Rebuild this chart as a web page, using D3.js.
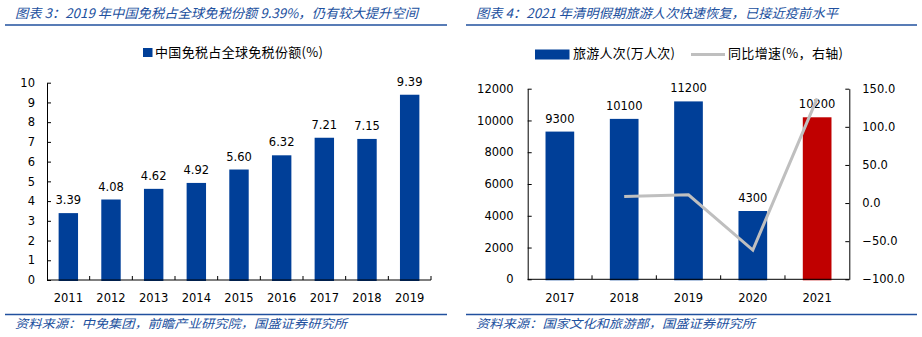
<!DOCTYPE html>
<html><head><meta charset="utf-8">
<script src="https://cdn.jsdelivr.net/npm/d3@7/dist/d3.min.js"></script>
<style>body{margin:0;background:#fff}svg{display:block}</style>
</head><body>
<svg id="c" width="922" height="337"></svg>
<script>
// ---- data ----
const leftTitle = "图表 3：2019 年中国免税占全球免税份额 9.39%，仍有较大提升空间";
const leftSource = "资料来源：中免集团，前瞻产业研究院，国盛证券研究所";
const leftLegend = "中国免税占全球免税份额(%)";
const leftYears = ["2011","2012","2013","2014","2015","2016","2017","2018","2019"];
const leftShare = [3.39,4.08,4.62,4.92,5.60,6.32,7.21,7.15,9.39];
const leftTicks = [0,1,2,3,4,5,6,7,8,9,10];

const rightTitle = "图表 4：2021 年清明假期旅游人次快速恢复，已接近疫前水平";
const rightSource = "资料来源：国家文化和旅游部，国盛证券研究所";
const rightLegendBar = "旅游人次(万人次)";
const rightLegendLine = "同比增速(%，右轴)";
const rightYears = ["2017","2018","2019","2020","2021"];
const trips = [9300,10100,11200,4300,10200];
const growth = [null,8.6,10.9,-61.6,137.2];
const rightTicksL = [0,2000,4000,6000,8000,10000,12000];
const rightTicksR = [-100,-50,0,50,100,150];

// ---- style ----
const BLUE = "#003F98", RED = "#C00000", GRAY = "#BFBFBF", HEAD = "#21509E";
const NUM = "DejaVu Sans, Verdana, sans-serif";
const CJK = "'Noto Sans CJK SC', sans-serif";
const svg = d3.select("#c");

function frame(x0, x1, tx, title, tw, source, sw) {
  svg.append("text").attr("x", tx).attr("y", 18).attr("fill", HEAD)
    .attr("font-family", CJK).attr("font-size", 13).attr("font-style", "italic")
    .attr("textLength", tw).attr("lengthAdjust", "spacingAndGlyphs").text(title);
  svg.append("line").attr("x1", x0).attr("x2", x1).attr("y1", 25).attr("y2", 25)
    .attr("stroke", HEAD).attr("stroke-width", 1.5);
  svg.append("line").attr("x1", x0).attr("x2", x1).attr("y1", 314.5).attr("y2", 314.5)
    .attr("stroke", HEAD).attr("stroke-width", 1.5);
  svg.append("text").attr("x", tx).attr("y", 327.5).attr("fill", HEAD)
    .attr("font-family", CJK).attr("font-size", 12).attr("font-style", "italic")
    .attr("textLength", sw).attr("lengthAdjust", "spacingAndGlyphs").text(source);
}

function styleAxis(g) {
  g.selectAll("path").attr("stroke", "#000").attr("stroke-width", 1);
  g.selectAll("line").attr("stroke", "#000");
  g.selectAll("text").attr("font-family", NUM).attr("font-size", 11.5).attr("fill", "#000");
}

// ---------- left chart ----------
frame(5, 447, 15, leftTitle, 403, leftSource, 332);
{
  const x = d3.scaleBand().domain(leftYears).range([47, 431]).paddingInner(0.545).paddingOuter(0.2725);
  const y = d3.scaleLinear().domain([0, 10]).range([280, 82.7]);
  // bars
  svg.append("g").selectAll("rect").data(leftYears).join("rect")
    .attr("x", d => x(d)).attr("width", x.bandwidth())
    .attr("y", (d, i) => y(leftShare[i])).attr("height", (d, i) => y(0) - y(leftShare[i]) + 1)
    .attr("fill", BLUE);
  // labels
  svg.append("g").selectAll("text").data(leftYears).join("text")
    .attr("x", d => x(d) + x.bandwidth() / 2).attr("y", (d, i) => y(leftShare[i]) - 9)
    .attr("text-anchor", "middle").attr("font-family", NUM).attr("font-size", 11.5)
    .text((d, i) => leftShare[i].toFixed(2));
  // y axis
  const ga = svg.append("g").attr("transform", "translate(47,0)")
    .call(d3.axisLeft(y).tickValues(leftTicks).tickSizeInner(-4).tickSizeOuter(0).tickPadding(12).tickFormat(d3.format("d")));
  styleAxis(ga);
  // x axis
  const xa = svg.append("g").attr("transform", "translate(0,280)");
  xa.append("line").attr("x1", 47).attr("x2", 431).attr("stroke", "#000");
  const step = x.step();
  xa.selectAll("line.t").data(leftYears).join("line").attr("class", "t")
    .attr("x1", (d, i) => 47 + step * (i + 1)).attr("x2", (d, i) => 47 + step * (i + 1))
    .attr("y1", 0).attr("y2", -4).attr("stroke", "#000");
  xa.selectAll("text").data(leftYears).join("text")
    .attr("x", d => x(d) + x.bandwidth() / 2).attr("y", 22)
    .attr("text-anchor", "middle").attr("font-family", NUM).attr("font-size", 11.5).text(d => d);
  // legend
  svg.append("rect").attr("x", 143).attr("y", 48).attr("width", 9.5).attr("height", 9).attr("fill", BLUE);
  svg.append("text").attr("x", 155).attr("y", 57).attr("font-family", CJK).attr("font-size", 13)
    .attr("textLength", 168).attr("lengthAdjust", "spacing").text(leftLegend);
}

// ---------- right chart ----------
frame(466, 917, 476, rightTitle, 362, rightSource, 279);
{
  const x0 = 527.7, x1 = 849.3;
  const x = d3.scaleBand().domain(rightYears).range([x0, x1]).paddingInner(0.554).paddingOuter(0.277);
  const yL = d3.scaleLinear().domain([0, 12000]).range([279.3, 88.7]);
  const yR = d3.scaleLinear().domain([-100, 150]).range([279.3, 88.7]);
  const cx = d => x(d) + x.bandwidth() / 2;
  svg.append("g").selectAll("rect").data(rightYears).join("rect")
    .attr("x", d => x(d)).attr("width", x.bandwidth())
    .attr("y", (d, i) => yL(trips[i])).attr("height", (d, i) => yL(0) - yL(trips[i]) + 1)
    .attr("fill", (d, i) => i === rightYears.length - 1 ? RED : BLUE);
  svg.append("g").selectAll("text").data(rightYears).join("text")
    .attr("x", cx).attr("y", (d, i) => yL(trips[i]) - 9)
    .attr("text-anchor", "middle").attr("font-family", NUM).attr("font-size", 11.5)
    .text((d, i) => trips[i]);
  // line
  const pts = rightYears.map((d, i) => [d, growth[i]]).filter(p => p[1] !== null);
  svg.append("path").datum(pts)
    .attr("d", d3.line().x(p => cx(p[0])).y(p => yR(p[1])))
    .attr("fill", "none").attr("stroke", GRAY).attr("stroke-width", 3);
  // axes
  const gl = svg.append("g").attr("transform", `translate(${x0},0)`)
    .call(d3.axisLeft(yL).tickValues(rightTicksL).tickSizeInner(-4).tickSizeOuter(0).tickPadding(14).tickFormat(d3.format("d")));
  styleAxis(gl);
  const gr = svg.append("g").attr("transform", `translate(${x1},0)`)
    .call(d3.axisRight(yR).tickValues(rightTicksR).tickSizeInner(-4).tickSizeOuter(0).tickPadding(13).tickFormat(d3.format(".1f")));
  styleAxis(gr);
  const xa = svg.append("g").attr("transform", "translate(0,279.3)");
  xa.append("line").attr("x1", x0).attr("x2", x1).attr("stroke", "#000");
  const step = x.step();
  xa.selectAll("line.t").data(rightYears.slice(0, -1)).join("line").attr("class", "t")
    .attr("x1", (d, i) => x0 + step * (i + 1)).attr("x2", (d, i) => x0 + step * (i + 1))
    .attr("y1", 0).attr("y2", -4).attr("stroke", "#000");
  xa.selectAll("text").data(rightYears).join("text")
    .attr("x", cx).attr("y", 22.5)
    .attr("text-anchor", "middle").attr("font-family", NUM).attr("font-size", 11.5).text(d => d);
  // legend
  svg.append("rect").attr("x", 535).attr("y", 49.5).attr("width", 34.5).attr("height", 10).attr("fill", BLUE);
  svg.append("text").attr("x", 573).attr("y", 58).attr("font-family", CJK).attr("font-size", 13)
    .attr("textLength", 102).attr("lengthAdjust", "spacing").text(rightLegendBar);
  svg.append("line").attr("x1", 691).attr("x2", 725).attr("y1", 54.5).attr("y2", 54.5)
    .attr("stroke", GRAY).attr("stroke-width", 3);
  svg.append("text").attr("x", 728).attr("y", 58).attr("font-family", CJK).attr("font-size", 13)
    .attr("textLength", 115).attr("lengthAdjust", "spacing").text(rightLegendLine);
}
</script>
</body></html>
